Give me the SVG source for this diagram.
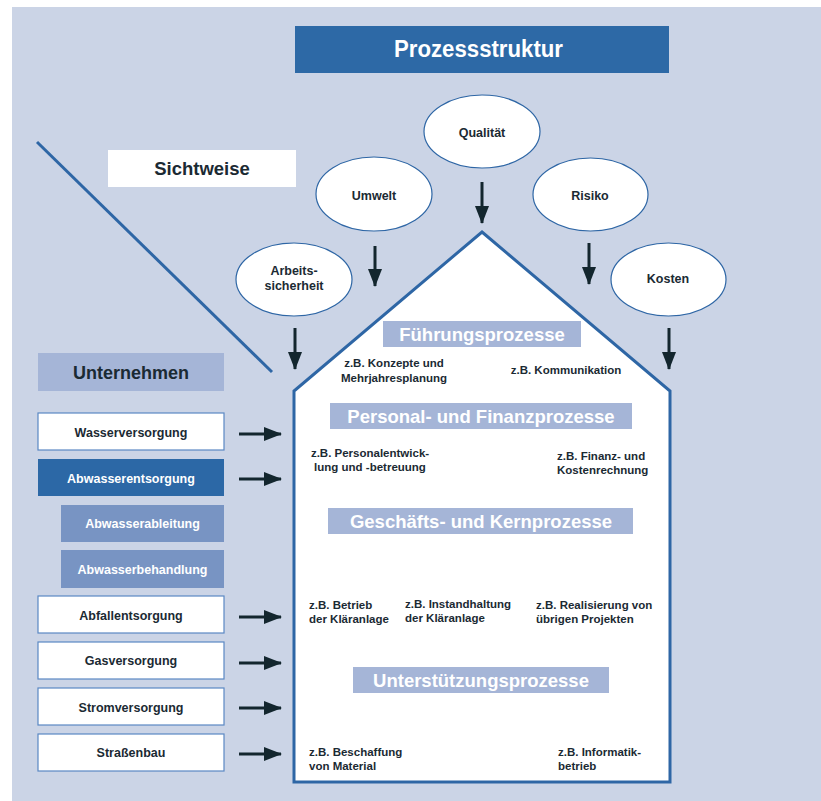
<svg xmlns="http://www.w3.org/2000/svg" width="821" height="801" viewBox="0 0 821 801">
<defs>
<style>
text{font-family:"Liberation Sans",Arial,sans-serif;font-weight:bold;}
.dk{fill:#1b2a33;}
.sm{font-size:11.5px;fill:#1b2a33;}
.bx{font-size:12.5px;text-anchor:middle;}
.el{fill:#ffffff;stroke:#2e66a5;stroke-width:1.2;}
.wb{fill:#ffffff;stroke:#5a88c4;stroke-width:1.2;}
.band{fill:#a5b5d7;}
.bt{font-size:18.5px;fill:#ffffff;text-anchor:middle;}
.arr{stroke:#13262e;stroke-width:3;fill:none;marker-end:url(#ah);}
</style>
<marker id="ah" markerUnits="userSpaceOnUse" markerWidth="18" markerHeight="14" refX="17" refY="7" orient="auto">
<path d="M0,0 L18,7 L0,14 z" fill="#13262e"/>
</marker>
</defs>
<rect x="0" y="0" width="821" height="801" fill="#ffffff"/>
<rect x="12" y="7" width="809" height="794" fill="#cbd4e6"/>

<g id="title">
<rect x="295" y="26" width="374" height="47" fill="#2d69a6"/>
<text x="394" y="57" font-size="23.5" fill="#ffffff" textLength="169" lengthAdjust="spacingAndGlyphs">Prozessstruktur</text>
</g>

<g id="divider">
<line x1="37" y1="142" x2="272" y2="372" stroke="#2e66a5" stroke-width="3"/>
</g>

<g id="sichtweise">
<rect x="108" y="150" width="188" height="37" fill="#ffffff"/>
<text x="202" y="174.5" font-size="18.5" class="dk" text-anchor="middle">Sichtweise</text>
</g>

<g id="qualitaet">
<ellipse cx="482" cy="131.5" rx="58" ry="36.5" class="el"/>
<text x="482" y="136.5" class="bx dk">Qualität</text>
</g>
<g id="umwelt">
<ellipse cx="374" cy="194" rx="58" ry="37" class="el"/>
<text x="374" y="200" class="bx dk">Umwelt</text>
</g>
<g id="risiko">
<ellipse cx="590.5" cy="194.5" rx="57.5" ry="36.5" class="el"/>
<text x="590" y="200" class="bx dk">Risiko</text>
</g>
<g id="arbeitssicherheit">
<ellipse cx="294" cy="279.5" rx="58" ry="36.5" class="el"/>
<text x="294" y="274.5" class="bx dk">Arbeits-</text>
<text x="294" y="289.5" class="bx dk">sicherheit</text>
</g>
<g id="kosten">
<ellipse cx="668.5" cy="279.5" rx="57.5" ry="36.5" class="el"/>
<text x="668" y="282.5" class="bx dk">Kosten</text>
</g>

<g id="house">
<polygon points="482,232 670,391 670,782 294,782 294,391" fill="#ffffff" stroke="#2e66a5" stroke-width="3" stroke-linejoin="miter"/>
</g>

<g id="fuehrungsprozesse">
<rect x="383" y="321" width="198" height="26" class="band"/>
<text x="482" y="340.5" class="bt">Führungsprozesse</text>
<text x="394" y="367" class="sm" text-anchor="middle">z.B. Konzepte und</text>
<text x="394" y="382" class="sm" text-anchor="middle">Mehrjahresplanung</text>
<text x="566" y="374" class="sm" text-anchor="middle">z.B. Kommunikation</text>
</g>

<g id="personalprozesse">
<rect x="330" y="403" width="302" height="26" class="band"/>
<text x="481" y="422.5" class="bt">Personal- und Finanzprozesse</text>
<text x="370" y="457" class="sm" text-anchor="middle">z.B. Personalentwick-</text>
<text x="370" y="471" class="sm" text-anchor="middle">lung und -betreuung</text>
<text x="557" y="460" class="sm">z.B. Finanz- und</text>
<text x="557" y="474" class="sm">Kostenrechnung</text>
</g>

<g id="kernprozesse">
<rect x="328" y="508" width="305" height="26" class="band"/>
<text x="481" y="527.5" class="bt">Geschäfts- und Kernprozesse</text>
<text x="309" y="609" class="sm">z.B. Betrieb</text>
<text x="309" y="623" class="sm">der Kläranlage</text>
<text x="405" y="608" class="sm">z.B. Instandhaltung</text>
<text x="405" y="622" class="sm">der Kläranlage</text>
<text x="536" y="609" class="sm">z.B. Realisierung von</text>
<text x="536" y="623" class="sm">übrigen Projekten</text>
</g>

<g id="unterstuetzungsprozesse">
<rect x="353" y="667" width="256" height="26" class="band"/>
<text x="481" y="686.5" class="bt">Unterstützungsprozesse</text>
<text x="309" y="756" class="sm">z.B. Beschaffung</text>
<text x="309" y="770" class="sm">von Material</text>
<text x="558" y="756" class="sm">z.B. Informatik-</text>
<text x="558" y="770" class="sm">betrieb</text>
</g>

<g id="unternehmen">
<rect x="38" y="353" width="186" height="38" class="band"/>
<text x="131" y="378.5" font-size="18" class="dk" text-anchor="middle">Unternehmen</text>
</g>
<g id="wasserversorgung">
<rect x="38" y="413" width="186" height="37" class="wb"/>
<text x="131" y="436.5" class="bx dk">Wasserversorgung</text>
</g>
<g id="abwasserentsorgung">
<rect x="38" y="459" width="186" height="37" fill="#2c68a6"/>
<text x="131" y="482.5" class="bx" fill="#ffffff">Abwasserentsorgung</text>
</g>
<g id="abwasserableitung">
<rect x="61" y="505" width="163" height="37" fill="#7894c3"/>
<text x="142.5" y="527.5" class="bx" fill="#ffffff">Abwasserableitung</text>
</g>
<g id="abwasserbehandlung">
<rect x="61" y="550" width="163" height="38" fill="#7894c3"/>
<text x="142.5" y="573.5" class="bx" fill="#ffffff">Abwasserbehandlung</text>
</g>
<g id="abfallentsorgung">
<rect x="38" y="596" width="186" height="37" class="wb"/>
<text x="131" y="619.5" class="bx dk">Abfallentsorgung</text>
</g>
<g id="gasversorgung">
<rect x="38" y="642" width="186" height="37" class="wb"/>
<text x="131" y="664.5" class="bx dk">Gasversorgung</text>
</g>
<g id="stromversorgung">
<rect x="38" y="688" width="186" height="37" class="wb"/>
<text x="131" y="711.5" class="bx dk">Stromversorgung</text>
</g>
<g id="strassenbau">
<rect x="38" y="734" width="186" height="37" class="wb"/>
<text x="131" y="756.5" class="bx dk">Straßenbau</text>
</g>

<g id="connectors">
<line x1="482" y1="182" x2="482" y2="223" class="arr"/>
<line x1="375" y1="246" x2="375" y2="286" class="arr"/>
<line x1="589" y1="243" x2="589" y2="284" class="arr"/>
<line x1="295" y1="328" x2="295" y2="369" class="arr"/>
<line x1="669" y1="328" x2="669" y2="369" class="arr"/>
<line x1="239" y1="434" x2="281" y2="434" class="arr"/>
<line x1="239" y1="479" x2="281" y2="479" class="arr"/>
<line x1="239" y1="617" x2="281" y2="617" class="arr"/>
<line x1="239" y1="663" x2="281" y2="663" class="arr"/>
<line x1="239" y1="708" x2="281" y2="708" class="arr"/>
<line x1="239" y1="754" x2="281" y2="754" class="arr"/>
</g>
</svg>
